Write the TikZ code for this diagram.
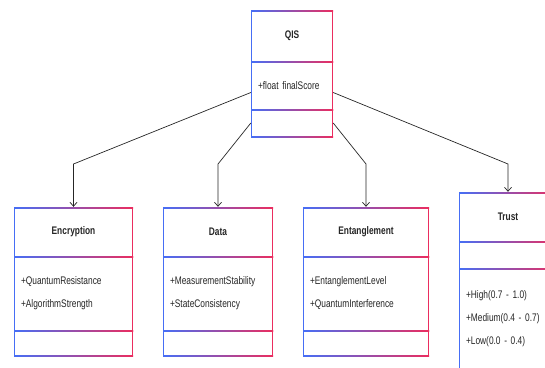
\documentclass[tikz,border=0pt]{standalone}
\usepackage{fontspec}
\setmainfont{Liberation Sans}[FakeStretch=0.76]
\usetikzlibrary{arrows.meta}
\definecolor{umlblue}{RGB}{70, 110, 245}
\definecolor{umlred}{RGB}{235, 45, 95}

\begin{document}
\begin{tikzpicture}[
   x=1pt, y=1pt,
   gradframe/.style={path picture={
       \shade[left color=umlblue, right color=umlred]
         (path picture bounding box.north west) rectangle ([yshift=-1pt]path picture bounding box.north east);
       \shade[left color=umlblue, right color=umlred]
         (path picture bounding box.south west) rectangle ([yshift=1pt]path picture bounding box.south east);
       \fill[umlblue]
         (path picture bounding box.south west) rectangle ([xshift=1pt]path picture bounding box.north west);
       \fill[umlred]
         (path picture bounding box.south east) rectangle ([xshift=-1pt]path picture bounding box.north east);}},
   titlebox/.style={rectangle, fill=white, gradframe, inner sep=0, text=black!85,
                    font=\bfseries\fontsize{11}{13}\selectfont},
   attrbox/.style={rectangle, fill=white, gradframe, inner xsep=7, inner ysep=0,
                   align=left, text=black!85, font=\fontsize{11}{23}\selectfont},
   methbox/.style={rectangle, fill=white, gradframe, inner sep=0},
   link/.style={-{Straight Barb[length=4pt, width=7pt]}, line width=0.7, black!85}
  ]

  \path[use as bounding box, clip] (0, 0) rectangle (545, -367);

  % QIS
  \node (qis) at (292, -36) [titlebox, minimum width=82, minimum height=52] {QIS};
  \node (qis-a) at (292, -85.5) [attrbox, text width=68, minimum height=49] {+float finalScore};
  \node (qis-m) at (292, -123) [methbox, minimum width=82, minimum height=28] {};

  % Encryption
  \node (enc) at (73.5, -232) [titlebox, minimum width=119, minimum height=50] {Encryption};
  \node (enc-a) at (73.5, -293.5) [attrbox, text width=105, minimum height=75]
        {+QuantumResistance\\+AlgorithmStrength};
  \node (enc-m) at (73.5, -343) [methbox, minimum width=119, minimum height=26] {};

  % Data
  \node (data) at (218, -232) [titlebox, minimum width=110, minimum height=50] {Data};
  \node (data-a) at (218, -293.5) [attrbox, text width=96, minimum height=75]
        {+MeasurementStability\\+StateConsistency};
  \node (data-m) at (218, -343) [methbox, minimum width=110, minimum height=26] {};

  % Entanglement
  \node (ent) at (366, -232) [titlebox, minimum width=126, minimum height=50] {Entanglement};
  \node (ent-a) at (366, -293.5) [attrbox, text width=112, minimum height=75]
        {+EntanglementLevel\\+QuantumInterference};
  \node (ent-m) at (366, -343) [methbox, minimum width=126, minimum height=26] {};

  % Trust
  \node (trust) at (508, -217) [titlebox, minimum width=98, minimum height=50] {Trust};
  \node (trust-m) at (508, -255) [methbox, minimum width=98, minimum height=28] {};
  \node (trust-a) at (508, -319) [attrbox, text width=84, minimum height=102]
        {+High(0.7 - 1.0)\\+Medium(0.4 - 0.7)\\+Low(0.0 - 0.4)};

  \coordinate (qisl) at ([yshift=-7pt]qis-a.west);
  \coordinate (qisr) at ([yshift=-7pt]qis-a.east);
  \coordinate (encbend) at (73.5, -164);
  \coordinate (databend) at (218, -164);
  \coordinate (entbend) at (366, -164);
  \coordinate (trustbend) at (508, -164);

  \foreach \S/\M/\E in {qisl/encbend/enc, qis-m.west/databend/data,
                        qis-m.east/entbend/ent, qisr/trustbend/trust} {
    \draw[link] (\S) -- (\M) -- (\E.north);
  }

\end{tikzpicture}
\end{document}
